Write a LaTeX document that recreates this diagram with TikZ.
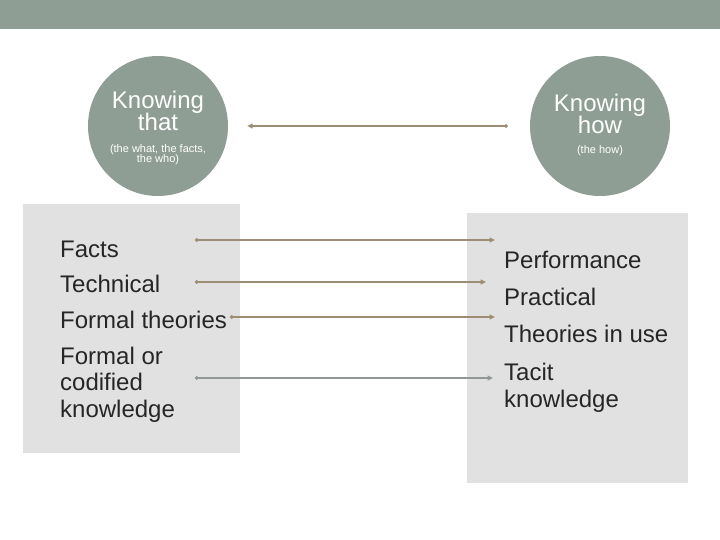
\documentclass[tikz,border=0pt]{standalone}
\usepackage{fontspec}
\setmainfont{Liberation Sans}
\usetikzlibrary{arrows.meta}
\definecolor{grau}{RGB}{143,158,149}
\definecolor{hell}{RGB}{224,225,224}
\definecolor{braun}{RGB}{156,141,116}
\definecolor{linie}{RGB}{143,154,150}
\definecolor{schrift}{RGB}{38,38,38}

\begin{document}
\begin{tikzpicture}[x=1pt,y=-1pt,
kreis/.style={circle, minimum size=140pt, fill=grau, inner sep=0pt},
kasten/.style={fill=hell, inner sep=0pt, anchor=north west},
titel/.style={white, align=center, anchor=base, inner sep=0pt, font=\fontsize{24}{22.5}\selectfont},
klein/.style={white, align=center, anchor=base, inner sep=0pt, font=\fontsize{11}{10.5}\selectfont},
eintrag/.style={schrift, anchor=base west, align=left, inner sep=0pt, font=\fontsize{24}{26.5}\selectfont},
pfeil/.style={braun, line width=1.5pt, {Circle[length=3.5pt]}-{Triangle[length=5.5pt,width=5pt]}},
]
\useasboundingbox (0,0) rectangle (720,540);
\fill[white] (0,0) rectangle (720,540);
\fill[grau] (0,0) rectangle (720,29);

\node[kreis] (that) at (158,126) {};
\node[kreis] (how) at (600,126) {};
\node[titel] (thatT) at (158,131) {Knowing\\that};
\node[klein] (thatK) at (158,163) {(the what, the facts,\\the who)};
\node[titel] (howT) at (600,134) {Knowing\\how};
\node[klein] (howK) at (600,154) {(the how)};

\draw[pfeil, {Triangle[length=5.5pt,width=5pt]}-{Circle[length=3.5pt]}, shorten <=19pt, shorten >=22pt] (that) -- (how);

\node[kasten, minimum width=217pt, minimum height=249pt] (links) at (23,204) {};
\node[kasten, minimum width=221pt, minimum height=270pt] (rechts) at (467,213) {};

\node[eintrag] (facts) at (60,257) {Facts};
\node[eintrag] (technical) at (60,292) {Technical};
\node[eintrag] (formal) at (60,328) {Formal theories};
\node[eintrag] (codified) at (60,417) {Formal or\\codified\\knowledge};

\node[eintrag] (performance) at (504,268) {Performance};
\node[eintrag] (practical) at (504,305) {Practical};
\node[eintrag] (inuse) at (504,342) {Theories in use};
\node[eintrag] (tacit) at (504,407) {Tacit\\knowledge};

\coordinate (p1a) at (195,240);
\coordinate (p1b) at (495,240);
\coordinate (p2a) at (195,282);
\coordinate (p2b) at (486,282);
\coordinate (p3a) at (230,317);
\coordinate (p3b) at (495,317);
\coordinate (p4a) at (195,378);
\coordinate (p4b) at (493,378);

\draw[pfeil] (p1a) -- (p1b);
\draw[pfeil] (p2a) -- (p2b);
\draw[pfeil] (p3a) -- (p3b);
\draw[pfeil, linie] (p4a) -- (p4b);

\end{tikzpicture}
\end{document}
